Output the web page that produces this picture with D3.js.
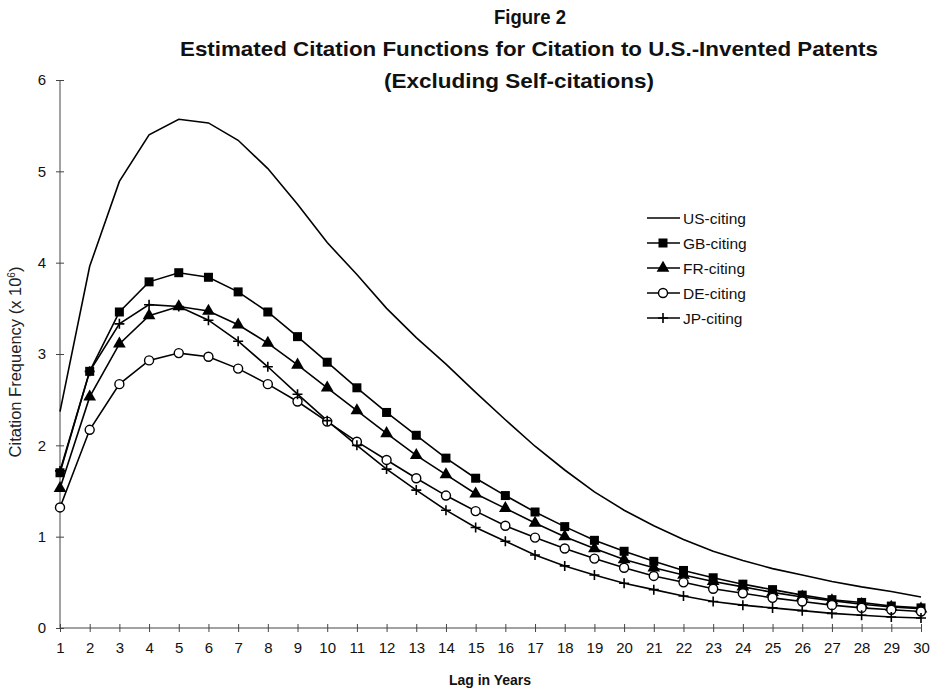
<!DOCTYPE html>
<html>
<head>
<meta charset="utf-8">
<script src="https://cdn.jsdelivr.net/npm/d3@7"></script>
<style>
  body { margin: 0; background: #fff; }
  svg { display: block; font-family: "Liberation Sans", Arial, sans-serif; }
</style>
</head>
<body>
<svg id="chart" width="932" height="689"></svg>
<script>
// lag years on the x axis
const years = d3.range(1, 31);

// citation frequency (x 10^6)
const usCiting = [2.37, 3.96, 4.89, 5.40, 5.57, 5.53, 5.34, 5.03, 4.64, 4.22,
                  3.87, 3.50, 3.18, 2.89, 2.58, 2.28, 1.99, 1.73, 1.49, 1.29,
                  1.12, 0.97, 0.84, 0.74, 0.65, 0.58, 0.51, 0.45, 0.40, 0.34];
const gbCiting = [1.70, 2.81, 3.46, 3.79, 3.89, 3.84, 3.68, 3.46, 3.19, 2.91,
                  2.63, 2.36, 2.11, 1.86, 1.64, 1.45, 1.27, 1.11, 0.96, 0.84,
                  0.73, 0.63, 0.55, 0.48, 0.42, 0.36, 0.31, 0.28, 0.24, 0.22];
const frCiting = [1.53, 2.53, 3.11, 3.42, 3.52, 3.47, 3.32, 3.12, 2.88, 2.63,
                  2.38, 2.13, 1.89, 1.68, 1.47, 1.31, 1.15, 1.00, 0.87, 0.75,
                  0.66, 0.58, 0.51, 0.45, 0.39, 0.34, 0.30, 0.26, 0.23, 0.21];
const deCiting = [1.32, 2.17, 2.67, 2.93, 3.01, 2.97, 2.84, 2.67, 2.48, 2.26,
                  2.04, 1.84, 1.64, 1.45, 1.28, 1.12, 0.99, 0.87, 0.76, 0.66,
                  0.57, 0.50, 0.43, 0.38, 0.33, 0.29, 0.25, 0.22, 0.20, 0.18];
const jpCiting = [1.72, 2.81, 3.33, 3.54, 3.52, 3.37, 3.14, 2.86, 2.56, 2.27,
                  2.00, 1.74, 1.51, 1.29, 1.10, 0.95, 0.80, 0.68, 0.58, 0.49,
                  0.42, 0.35, 0.29, 0.25, 0.22, 0.19, 0.16, 0.14, 0.12, 0.11];

const seriesNames = ["US-citing", "GB-citing", "FR-citing", "DE-citing", "JP-citing"];
const seriesMarkers = ["none", "square", "triangle", "circle", "plus"];
const yTicks = [0, 1, 2, 3, 4, 5, 6];

const series = seriesNames.map((name, i) => ({
  name: name,
  marker: seriesMarkers[i],
  values: [usCiting, gbCiting, frCiting, deCiting, jpCiting][i]
}));

const svg = d3.select("#chart");

const x = d3.scaleLinear().domain([1, 30]).range([60, 921]);
const y = d3.scaleLinear().domain([0, 6]).range([628, 80]);

// TITLE
const title = svg.append("g")
    .attr("font-weight", "bold")
    .attr("font-size", 21)
    .attr("text-anchor", "middle")
    .attr("fill", "#111");
title.append("text").attr("x", 530).attr("y", 24)
    .attr("textLength", 72).attr("lengthAdjust", "spacingAndGlyphs").text("Figure 2");
title.append("text").attr("x", 529).attr("y", 56)
    .attr("textLength", 698).attr("lengthAdjust", "spacingAndGlyphs")
    .text("Estimated Citation Functions for Citation to U.S.-Invented Patents");
title.append("text").attr("x", 519).attr("y", 88)
    .attr("textLength", 270).attr("lengthAdjust", "spacingAndGlyphs")
    .text("(Excluding Self-citations)");

// AXES - ticks cross the axis line
const axisColor = "#444";
const xAxis = svg.append("g")
    .attr("transform", `translate(0,${y(0)})`)
    .call(d3.axisBottom(x).tickValues(years).tickSize(0).tickPadding(14).tickFormat(d3.format("d")));
xAxis.select(".domain").remove();
xAxis.append("line").attr("x1", x(1)).attr("x2", x(30)).attr("stroke", axisColor);
xAxis.selectAll(".tick").append("line")
    .attr("y1", -4).attr("y2", 4).attr("stroke", axisColor);
xAxis.selectAll(".tick text").attr("font-size", 15).attr("fill", "#111")
    .attr("font-family", "'Liberation Sans', Arial, sans-serif");

const yAxis = svg.append("g")
    .attr("transform", `translate(${x(1)},0)`)
    .call(d3.axisLeft(y).tickValues(yTicks).tickSize(0).tickPadding(14).tickFormat(d3.format("d")));
yAxis.select(".domain").remove();
yAxis.append("line").attr("y1", y(0)).attr("y2", y(6)).attr("stroke", axisColor);
yAxis.selectAll(".tick").append("line")
    .attr("x1", -4).attr("x2", 4).attr("stroke", axisColor);
yAxis.selectAll(".tick text").attr("font-size", 15).attr("fill", "#111")
    .attr("font-family", "'Liberation Sans', Arial, sans-serif");

// axis titles
svg.append("text")
    .attr("x", 490).attr("y", 685)
    .attr("text-anchor", "middle")
    .attr("font-weight", "bold")
    .attr("font-size", 14)
    .attr("fill", "#111")
    .text("Lag in Years");

const yTitle = svg.append("text")
    .attr("transform", "translate(21,362) rotate(-90)")
    .attr("text-anchor", "middle")
    .attr("font-family", "'Liberation Sans Narrow', 'Arial Narrow', sans-serif")
    .attr("font-size", 16.5)
    .attr("fill", "#222");
yTitle.append("tspan").text("Citation Frequency (x 10");
yTitle.append("tspan").attr("dy", -6).attr("font-size", 10).text("6");
yTitle.append("tspan").attr("dy", 6).text(")");

// LINES
const line = d3.line()
    .x((d, i) => x(years[i]))
    .y(d => y(d));

svg.selectAll("path.series").data(series).enter().append("path")
    .attr("class", "series")
    .attr("d", d => line(d.values))
    .attr("fill", "none")
    .attr("stroke", "#000")
    .attr("stroke-width", 1.6);

// MARKERS
function drawMarker(g, type) {
  if (type === "square") {
    g.append("rect").attr("x", -4.5).attr("y", -4.5).attr("width", 9).attr("height", 9).attr("fill", "#000");
  } else if (type === "triangle") {
    g.append("path").attr("d", d3.symbol(d3.symbolTriangle, 70)()).attr("fill", "#000");
  } else if (type === "circle") {
    g.append("circle").attr("r", 4.5).attr("fill", "#fff").attr("stroke", "#000").attr("stroke-width", 1.4);
  } else if (type === "plus") {
    g.append("path").attr("d", "M-5,0H5M0,-5V5").attr("stroke", "#000").attr("stroke-width", 1.6);
  }
}

series.filter(s => s.marker !== "none").forEach(s => {
  svg.append("g").selectAll("g").data(s.values).enter().append("g")
      .attr("transform", (d, i) => `translate(${x(years[i])},${y(d)})`)
      .each(function() { drawMarker(d3.select(this), s.marker); });
});

// LEGEND
const legend = svg.append("g").attr("transform", "translate(647,218)");
const items = legend.selectAll("g").data(series).enter().append("g")
    .attr("transform", (d, i) => `translate(0,${i * 25})`);
items.append("line").attr("x1", 0).attr("x2", 33).attr("stroke", "#000").attr("stroke-width", 1.6);
items.each(function(d) {
  const m = d3.select(this).append("g").attr("transform", "translate(16,0)");
  drawMarker(m, d.marker);
});
items.append("text")
    .attr("x", 36).attr("dy", "0.36em")
    .attr("font-size", 15.5)
    .attr("fill", "#111")
    .text(d => d.name);
</script>
</body>
</html>
